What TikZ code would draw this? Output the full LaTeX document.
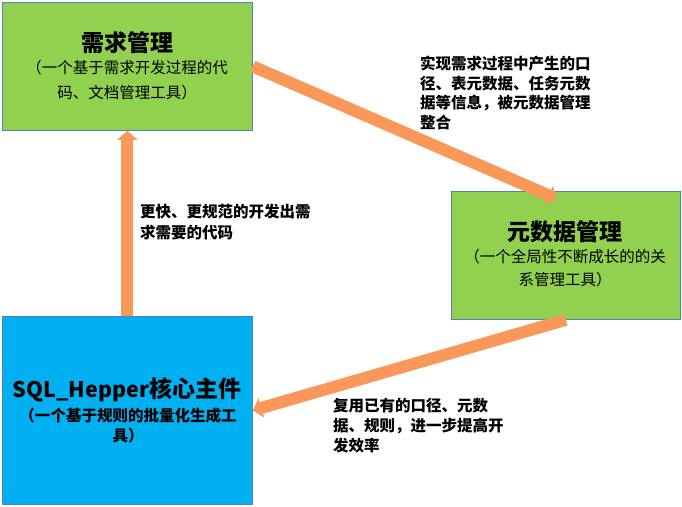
\documentclass[tikz,border=0pt]{standalone}
\usepackage{fontspec}
\setmainfont{Noto Sans CJK SC}
\usetikzlibrary{arrows.meta,calc}
\definecolor{boxgreen}{HTML}{92D050}
\definecolor{boxblue}{HTML}{00B0F0}
\definecolor{boxedge}{HTML}{4F81BD}
\definecolor{arroworange}{HTML}{FA985A}
\begin{document}
\begin{tikzpicture}[x=1pt,y=-1pt,
  box/.style={draw=boxedge, line width=0.8pt, rectangle, anchor=north west, inner sep=0pt},
  titletext/.style={inner sep=0pt, font=\fontsize{23}{27}\selectfont\bfseries},
  subtext/.style={inner sep=0pt, align=center, font=\fontsize{15.5}{#1}\selectfont},
  boldsubtext/.style={inner sep=0pt, align=center, font=\fontsize{15.5}{#1}\selectfont\bfseries},
  labeltext/.style={inner sep=0pt, align=left, anchor=north west, font=\fontsize{15.5}{#1}\selectfont\bfseries},
  bigarrow/.style={draw=arroworange, line width=12pt, -{Triangle[width=20pt,length=9pt]}}
]
\useasboundingbox (0,0) rectangle (682,506);
% boxes
\node[box, fill=boxgreen, minimum width=250pt, minimum height=128pt] (box1) at (2,2) {};
\node[box, fill=boxgreen, minimum width=229pt, minimum height=128pt] (box2) at (451,191) {};
\node[box, fill=boxblue, minimum width=250pt, minimum height=188pt] (box3) at (2,316) {};
% box texts
\node[titletext] (t1) at (127,43) {需求管理};
\node[subtext=25pt] (s1) at (127,80.5) {（一个基于需求开发过程的代\\码、文档管理工具）};
\node[titletext] (t2) at (565,232) {元数据管理};
\node[subtext=23pt] (s2) at (565,268.5) {（一个全局性不断成长的的关\\系管理工具）};
\node[titletext] (t3) at (127,390) {{\fontsize{21.5}{27}\selectfont SQL\_Hepper}核心主件};
\node[boldsubtext=20pt] (s3) at (128,426) {（一个基于规则的批量化生成工\\具）};
% arrows
\draw[bigarrow] (box1.east) -- ($(box2.north west)+(106,8)$);
\draw[bigarrow] (box3.north) -- (box1.south);
\draw[bigarrow] (box2.south) -- (box3.east);
% labels
\node[labeltext=19.5pt] (la) at (420,56) {实现需求过程中产生的口\\径、表元数据、任务元数\\据等信息，被元数据管理\\整合};
\node[labeltext=21pt] (lb) at (140,204) {更快、更规范的开发出需\\求需要的代码};
\node[labeltext=20pt] (lc) at (333,398) {复用已有的口径、元数\\据、规则，进一步提高开\\发效率};
\end{tikzpicture}
\end{document}
